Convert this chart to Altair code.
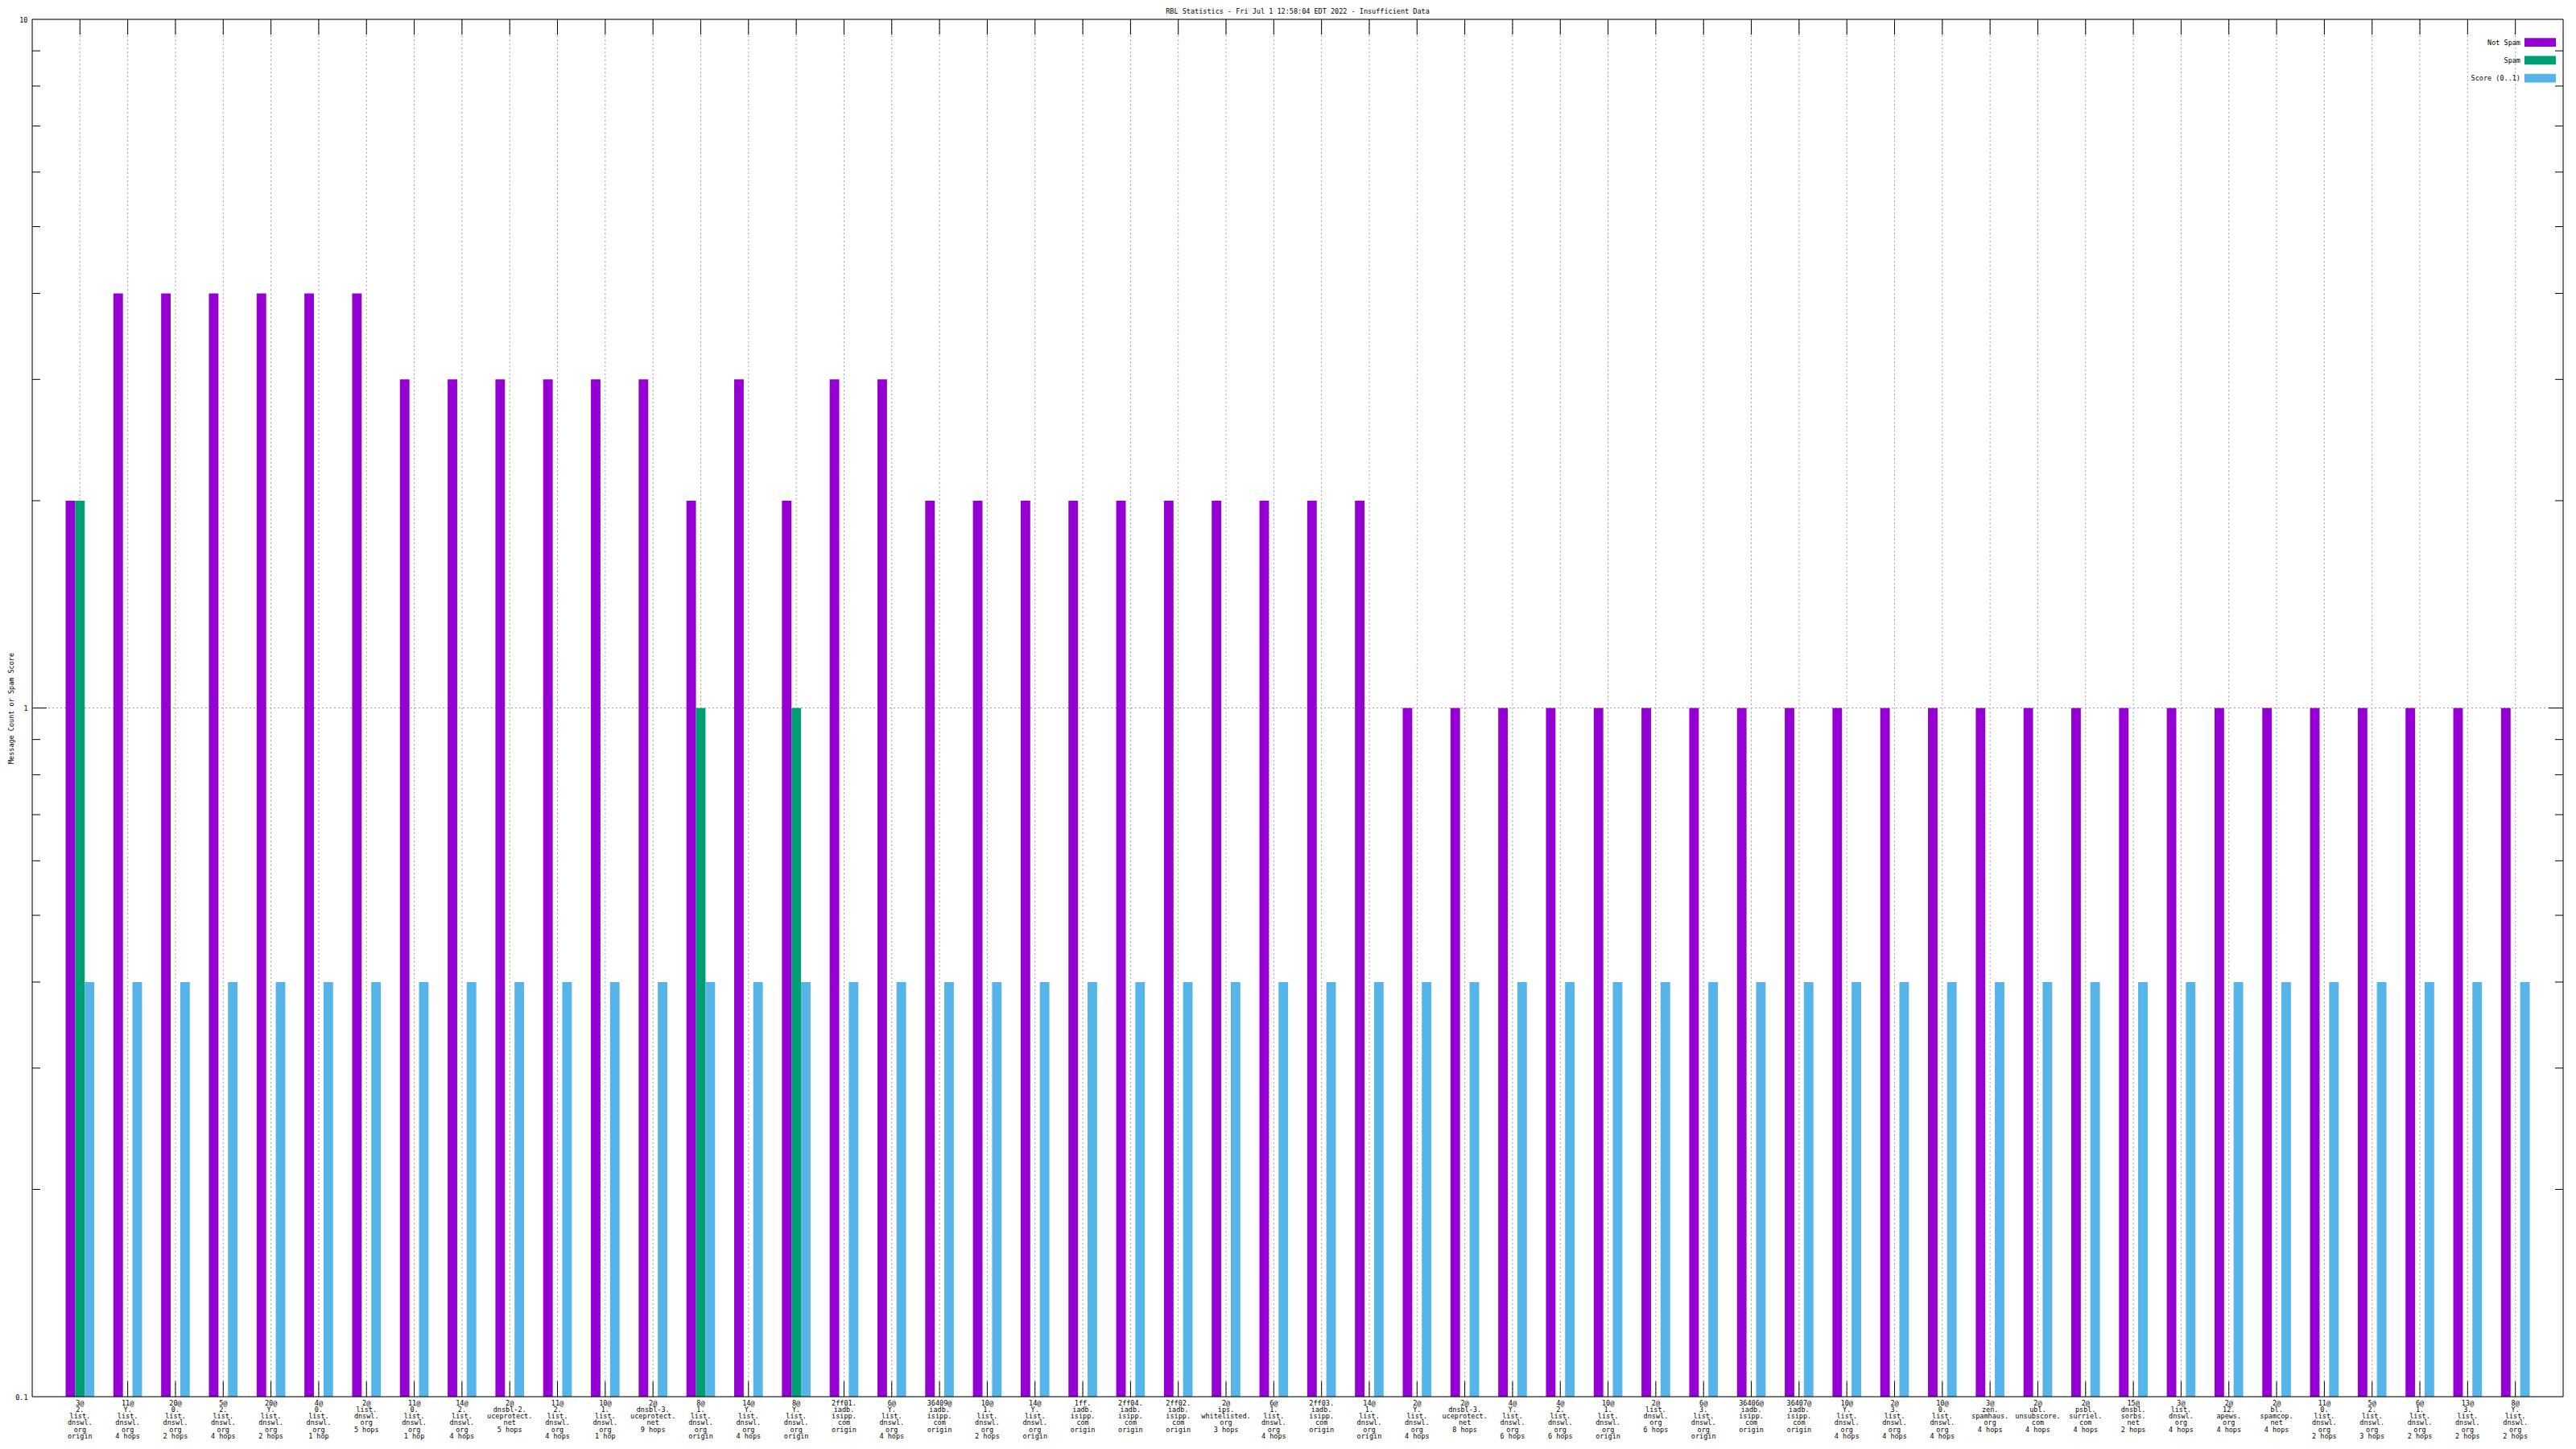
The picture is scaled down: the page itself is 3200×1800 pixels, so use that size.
import re
import altair as alt
import pandas as pd

# ---------------- data ----------------
title_text = "RBL Statistics - Fri Jul  1 12:58:04 EDT 2022 - Insufficient Data"
y_title = "Message Count or Spam Score"

series = ["Not Spam", "Spam", "Score (0..1)"]
colors = ["#9400d3", "#009e73", "#56b4e9"]

rbl = [
    "3@2.list.dnswl.org", "11@Y.list.dnswl.org", "20@0.list.dnswl.org", "5@2.list.dnswl.org",
    "20@Y.list.dnswl.org", "4@0.list.dnswl.org", "2@list.dnswl.org", "11@0.list.dnswl.org",
    "14@2.list.dnswl.org", "2@dnsbl-2.uceprotect.net", "11@2.list.dnswl.org", "10@1.list.dnswl.org",
    "2@dnsbl-3.uceprotect.net", "8@1.list.dnswl.org", "14@Y.list.dnswl.org", "8@Y.list.dnswl.org",
    "2ff01.iadb.isipp.com", "6@Y.list.dnswl.org", "36409@iadb.isipp.com", "10@1.list.dnswl.org",
    "14@Y.list.dnswl.org", "1ff.iadb.isipp.com", "2ff04.iadb.isipp.com", "2ff02.iadb.isipp.com",
    "2@ips.whitelisted.org", "6@1.list.dnswl.org", "2ff03.iadb.isipp.com", "14@1.list.dnswl.org",
    "2@Y.list.dnswl.org", "2@dnsbl-3.uceprotect.net", "4@Y.list.dnswl.org", "4@2.list.dnswl.org",
    "10@1.list.dnswl.org", "2@list.dnswl.org", "6@3.list.dnswl.org", "36406@iadb.isipp.com",
    "36407@iadb.isipp.com", "10@Y.list.dnswl.org", "2@3.list.dnswl.org", "10@0.list.dnswl.org",
    "3@zen.spamhaus.org", "2@ubl.unsubscore.com", "2@psbl.surriel.com", "15@dnsbl.sorbs.net",
    "3@list.dnswl.org", "2@12.apews.org", "2@bl.spamcop.net", "11@0.list.dnswl.org",
    "5@2.list.dnswl.org", "6@1.list.dnswl.org", "13@3.list.dnswl.org", "8@Y.list.dnswl.org",
]
hops = [
    "origin", "4 hops", "2 hops", "4 hops",
    "2 hops", "1 hop", "5 hops", "1 hop",
    "4 hops", "5 hops", "4 hops", "1 hop",
    "9 hops", "origin", "4 hops", "origin",
    "origin", "4 hops", "origin", "2 hops",
    "origin", "origin", "origin", "origin",
    "3 hops", "4 hops", "origin", "origin",
    "4 hops", "8 hops", "6 hops", "6 hops",
    "origin", "6 hops", "origin", "origin",
    "origin", "4 hops", "4 hops", "4 hops",
    "4 hops", "4 hops", "4 hops", "2 hops",
    "4 hops", "4 hops", "4 hops", "2 hops",
    "3 hops", "2 hops", "2 hops", "2 hops",
]
not_spam = [
    2, 4, 4, 4, 4, 4, 4, 3, 3, 3, 3, 3, 3, 2, 3, 2, 3, 3, 2, 2, 2, 2, 2, 2, 2, 2,
    2, 2, 1, 1, 1, 1, 1, 1, 1, 1, 1, 1, 1, 1, 1, 1, 1, 1, 1, 1, 1, 1, 1, 1, 1, 1,
]
spam = [
    2, 0, 0, 0, 0, 0, 0, 0, 0, 0, 0, 0, 0, 1, 0, 1, 0, 0, 0, 0, 0, 0, 0, 0, 0, 0,
    0, 0, 0, 0, 0, 0, 0, 0, 0, 0, 0, 0, 0, 0, 0, 0, 0, 0, 0, 0, 0, 0, 0, 0, 0, 0,
]
score = [
    0.4, 0.4, 0.4, 0.4, 0.4, 0.4, 0.4, 0.4, 0.4, 0.4, 0.4, 0.4, 0.4, 0.4, 0.4, 0.4, 0.4,
    0.4, 0.4, 0.4, 0.4, 0.4, 0.4, 0.4, 0.4, 0.4, 0.4, 0.4, 0.4, 0.4, 0.4, 0.4, 0.4, 0.4,
    0.4, 0.4, 0.4, 0.4, 0.4, 0.4, 0.4, 0.4, 0.4, 0.4, 0.4, 0.4, 0.4, 0.4, 0.4, 0.4, 0.4, 0.4,
]
y_labels = [0.1, 1, 10]
y_minor = [0.2, 0.3, 0.4, 0.5, 0.6, 0.7, 0.8, 0.9, 2, 3, 4, 5, 6, 7, 8, 9]
y_major = [1]

# ---------------- build tables ----------------
labels = ["|".join(re.findall(r"[^@.]+[@.]?", r) + [h]) for r, h in zip(rbl, hops)]
if len(set(labels)) != len(labels):
    labels = [f"{i:02d}|" + l for i, l in enumerate(labels)]

rows = []
for i, lab in enumerate(labels):
    for s, v in zip(series, (not_spam[i], spam[i], score[i])):
        if v > 0:
            rows.append({"cat": lab, "series": s, "value": v})
df = pd.DataFrame(rows)
cats_df = pd.DataFrame({"cat": labels})

W, H = 3144, 1711
FONT = "DejaVu Sans Mono"
FS = 8.5

yscale = alt.Scale(type="log", domain=[0.1, 10])
xscale = alt.Scale(domain=labels, paddingInner=0.4, paddingOuter=0.7)

xaxis = alt.Axis(
    labelExpr="split(datum.label, '|')", labelAngle=0, labelAlign="center",
    labelBaseline="top", labelPadding=3, labelLineHeight=8.3, labelFont=FONT,
    labelFontSize=FS, labelColor="black", labelOverlap=False, labelBound=False,
    labelLimit=0, ticks=False, tickSize=0, domain=False, grid=False,
)
yaxis = alt.Axis(
    values=y_labels, format="~g", labelFont=FONT, labelFontSize=FS, labelColor="black",
    labelPadding=6, ticks=False, tickSize=0, domain=False, grid=False, labelFlush=False,
    labelOverlap=False, titleX=-27, titleY=H / 2, titleAngle=270, titleAlign="center",
    titleBaseline="middle", titleFont=FONT, titleFontSize=FS, titleFontWeight="normal",
    titleColor="black",
)


def X(field):
    return alt.X(field, scale=xscale, axis=xaxis, title=None, bandPosition=0.5)


def Y(field):
    return alt.Y(field, scale=yscale, axis=yaxis, title=y_title)


# vertical dashed grid
vgrid = alt.Chart(cats_df).mark_rule(color="#a0a0a0", strokeDash=[2, 3], strokeWidth=1).encode(
    x=X("cat:N"), y=alt.value(0), y2=alt.value(H),
)
# horizontal dashed grid at 1
hgrid = alt.Chart(pd.DataFrame({"v": y_major})).mark_rule(
    color="#a0a0a0", strokeDash=[2, 3], strokeWidth=1
).encode(y=Y("v:Q"), x=alt.value(0), x2=alt.value(W))

# x ticks (inward, bottom and top)
xtick_b = alt.Chart(cats_df).mark_rule(color="black", strokeWidth=1).encode(
    x=X("cat:N"), y=alt.value(H - 19), y2=alt.value(H),
)
xtick_t = alt.Chart(cats_df).mark_rule(color="black", strokeWidth=1).encode(
    x=X("cat:N"), y=alt.value(0), y2=alt.value(19),
)

# y ticks (inward, left and right)
minor_df = pd.DataFrame({"v": y_minor})
major_df = pd.DataFrame({"v": y_major})
ytick_layers = []
for dfv, ln in ((minor_df, 10), (major_df, 18)):
    for x0, x1 in ((0, ln), (W - ln, W)):
        ytick_layers.append(
            alt.Chart(dfv).mark_rule(color="black", strokeWidth=1).encode(
                y=Y("v:Q"), x=alt.value(x0), x2=alt.value(x1)
            )
        )

bars = alt.Chart(df).mark_bar(strokeWidth=0).encode(
    x=alt.X("cat:N", scale=xscale, axis=xaxis, title=None),
    xOffset=alt.XOffset("series:N", scale=alt.Scale(domain=series, paddingInner=0, paddingOuter=0)),
    y=Y("value:Q"),
    y2=alt.Y2(datum=0.1),
    color=alt.Color("series:N", scale=alt.Scale(domain=series, range=colors), legend=None),
)

one = pd.DataFrame({"t": [title_text]})
frame = alt.Chart(one).mark_rect(filled=False, stroke="black", strokeWidth=1).encode(
    x=alt.value(0), x2=alt.value(W), y=alt.value(0), y2=alt.value(H)
)
title = alt.Chart(one).mark_text(
    font=FONT, fontSize=FS, color="black", align="center", baseline="middle"
).encode(text="t:N", x=alt.value(W / 2), y=alt.value(-10))

legend_layers = []
for k, (s, c) in enumerate(zip(series, colors)):
    yc = 28.7 + 22.2 * k
    sdf = pd.DataFrame({"s": [s]})
    legend_layers.append(
        alt.Chart(sdf).mark_rect(color=c).encode(
            x=alt.value(W - 48), x2=alt.value(W - 9), y=alt.value(yc - 5.4), y2=alt.value(yc + 5.4)
        )
    )
    legend_layers.append(
        alt.Chart(sdf).mark_text(
            font=FONT, fontSize=FS, color="black", align="right", baseline="middle"
        ).encode(text="s:N", x=alt.value(W - 53), y=alt.value(yc))
    )

chart = alt.layer(
    vgrid, hgrid, xtick_b, xtick_t, *ytick_layers, bars, frame, title, *legend_layers
).properties(
    width=W, height=H,
    autosize=alt.AutoSizeParams(type="none"),
    padding={"left": 32, "top": 16, "right": 8, "bottom": 56},
).configure_view(stroke=None).configure(background="white")

chart.save("out.html", embed_options={"renderer": "svg", "actions": False})
